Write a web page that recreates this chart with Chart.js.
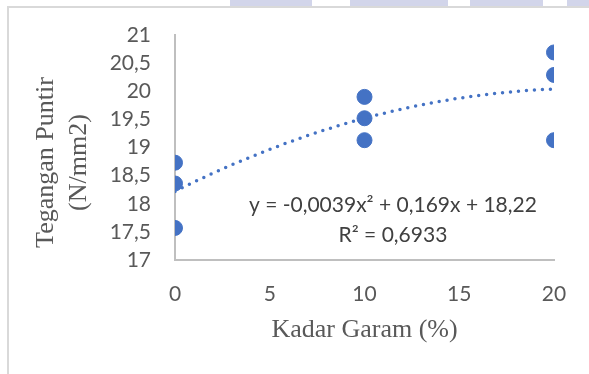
<!DOCTYPE html>
<html>
<head>
<meta charset="utf-8">
<script src="https://cdn.jsdelivr.net/npm/chart.js@4.4.1/dist/chart.umd.min.js"></script>
<style>
    html, body { margin: 0; padding: 0; background: #fff; }
    #wrap { position: relative; width: 589px; height: 374px; overflow: hidden; }
    #frame { position: absolute; left: 7px; top: 6px; width: 600px; height: 400px;
             border-left: 2px solid #d9d9d9; border-top: 2px solid #d9d9d9; }
    .mark { position: absolute; top: 0; height: 6px; background: #d2d5ea; }
    canvas { position: absolute; left: 0; top: 0; }
</style>
</head>
<body>
<div id="wrap">
    <div class="mark" style="left:230px;width:82px"></div>
    <div class="mark" style="left:350px;width:98px"></div>
    <div class="mark" style="left:470px;width:73px"></div>
    <div class="mark" style="left:567px;width:22px"></div>
    <div id="frame"></div>
    <canvas id="chart" width="589" height="374"></canvas>
</div>
<script>
// datos
const kadarGaram = [0, 0, 0, 10, 10, 10, 20, 20, 20];
const tegangan = [18.73, 18.36, 17.57, 19.90, 19.52, 19.13, 20.69, 20.29, 19.13];

// coeficientes de la línea de tendencia (c0 + c1*x + c2*x^2)
const trendCoef = [18.22, 0.169, -0.0039];
const trendX = [0, 1, 2, 3, 4, 5, 6, 7, 8, 9, 10, 11, 12, 13, 14, 15, 16, 17, 18, 19, 20];

const yTickLabels = ['17', '17,5', '18', '18,5', '19', '19,5', '20', '20,5', '21'];
const xTickLabels = ['0', '5', '10', '15', '20'];
const yTitle = ['Tegangan Puntir', '(N/mm2)'];
const xTitle = 'Kadar Garam (%)';
const equationLines = ['y = -0,0039x\u00b2 + 0,169x + 18,22', 'R\u00b2 = 0,6933'];

const blue = '#4472c4';
const grey = '#595959';

const trendData = trendX.map(x => ({ x: x, y: trendCoef[0] + trendCoef[1] * x + trendCoef[2] * x * x }));

// título vertical y ecuación
const labelsPlugin = {
    id: 'labelsPlugin',
    afterDraw(chart) {
        const ctx = chart.ctx;
        const area = chart.chartArea;
        const midY = (area.top + area.bottom) / 2 + 15;
        ctx.save();
        ctx.fillStyle = grey;
        ctx.font = '26px "Liberation Serif"';
        ctx.textAlign = 'center';
        ctx.textBaseline = 'middle';
        ctx.translate(46, midY);
        ctx.rotate(-Math.PI / 2);
        ctx.fillText(yTitle[0], 0, 0);
        ctx.fillText(yTitle[1], 0, 33);
        ctx.restore();

        ctx.save();
        ctx.fillStyle = '#404040';
        ctx.font = '21px Lato';
        ctx.textAlign = 'center';
        ctx.textBaseline = 'middle';
        const cx = chart.scales.x.getPixelForValue(11.5);
        ctx.fillText(equationLines[0], cx, area.top + 170);
        ctx.fillText(equationLines[1], cx, area.top + 200);
        ctx.restore();
    }
};

new Chart(document.getElementById('chart'), {
    type: 'scatter',
    data: {
        datasets: [{
            type: 'line',
            data: trendData,
            borderColor: blue,
            borderWidth: 3.5,
            borderDash: [0, 8],
            borderCapStyle: 'round',
            pointRadius: 0,
            fill: false,
            tension: 0,
        }, {
            data: kadarGaram.map((x, i) => ({ x: x, y: tegangan[i] })),
            backgroundColor: blue,
            borderColor: blue,
            pointRadius: 7.5,
            pointHoverRadius: 7.5,
        }],
    },
    options: {
        responsive: false,
        animation: false,
        events: [],
        layout: { padding: { left: 10, right: 35, top: 35, bottom: 0 } },
        plugins: {
            legend: { display: false },
            tooltip: { enabled: false },
        },
        scales: {
            x: {
                type: 'linear',
                min: 0,
                max: 20,
                afterFit: scale => { scale.height = 114; },
                grid: { display: false },
                border: { display: true, color: '#bfbfbf', width: 2 },
                ticks: {
                    stepSize: 5,
                    autoSkip: false,
                    padding: 14,
                    color: grey,
                    font: { family: 'Lato', size: 21 },
                    callback: (value, index) => xTickLabels[index],
                },
                title: {
                    display: true,
                    text: xTitle,
                    color: grey,
                    font: { family: '"Liberation Serif"', size: 26 },
                    padding: { top: 0, bottom: 28 },
                },
            },
            y: {
                min: 17,
                max: 21,
                afterFit: scale => { scale.width = 165; },
                grid: { display: false },
                border: { display: true, color: '#bfbfbf', width: 2 },
                ticks: {
                    stepSize: 0.5,
                    autoSkip: false,
                    padding: 16,
                    color: grey,
                    font: { family: 'Lato', size: 21 },
                    callback: (value, index) => yTickLabels[index],
                },
            },
        },
    },
    plugins: [labelsPlugin],
});
</script>
</body>
</html>
